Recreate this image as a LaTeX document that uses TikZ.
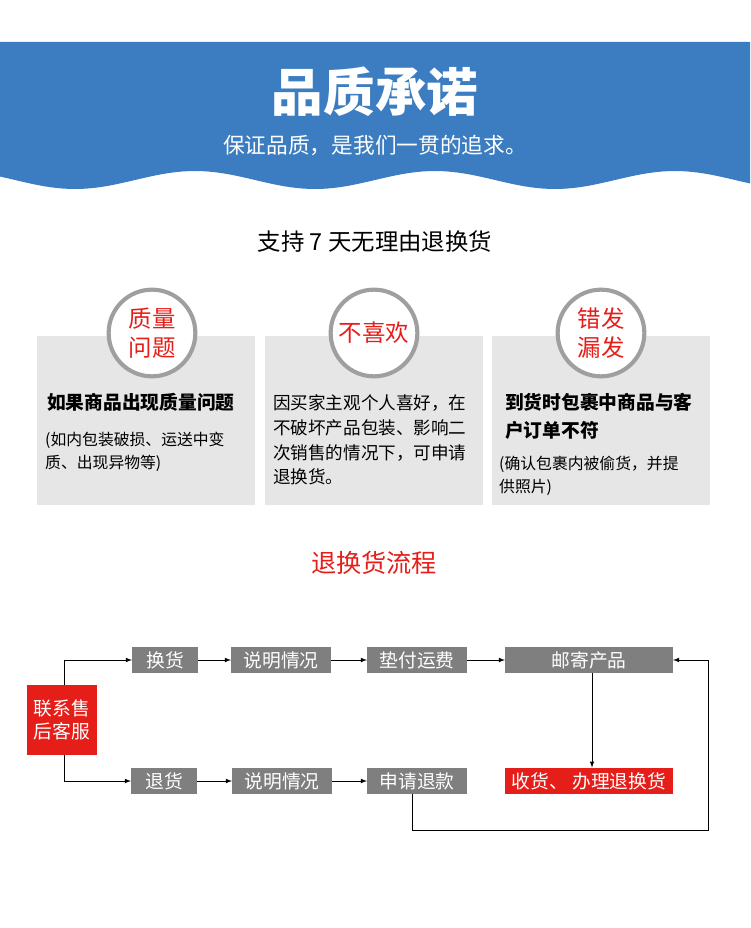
\documentclass[tikz,border=0pt]{standalone}
\usepackage{fontspec}
\setmainfont{Noto Sans CJK SC}
\usetikzlibrary{positioning}
\definecolor{bandblue}{RGB}{59,125,192}
\definecolor{cardgray}{RGB}{230,230,230}
\definecolor{flowgray}{RGB}{127,127,127}
\definecolor{alertred}{RGB}{230,30,25}
\tikzset{
  flowbox/.style={fill=flowgray,text=white,font=\fontsize{16}{18}\selectfont,minimum height=22.5pt,inner sep=0pt},
  redbox/.style={flowbox,fill=alertred},
  ring/.style={circle,draw=gray!75,line width=3.5pt,fill=white,minimum size=74pt,text=alertred,font=\fontsize{20}{25}\selectfont},
  cardtext/.style={anchor=north west,align=left,inner sep=0pt,font=\fontsize{15}{21.3}\selectfont},
  flowline/.style={line width=0.8pt,-latex}
}
\begin{document}
\begin{tikzpicture}[x=0.03cm,y=-0.03cm]
\useasboundingbox (0,0) rectangle (750,928);

% header band
\fill[bandblue] (0,42) -- (750,42) -- (750,180)
  -- plot[domain=750:0,samples=120] (\x,{180+9*cos(1.5*(\x-75))}) -- cycle;
\node[text=white,font=\fontsize{44}{48}\bfseries\selectfont] (title) at (375,92) {品质承诺};
\node[text=white,font=\fontsize{18.5}{22}\selectfont] (motto) at (375,145) {保证品质，是我们一贯的追求。};
\node[font=\fontsize{20}{24}\selectfont] (promise) at (375,242) {支持 7 天无理由退换货};

% cards
\foreach \i/\cx in {1/146, 2/374, 3/601} {
    \fill[cardgray] (\cx-109,336) rectangle (\cx+109,505);
}
\node[ring,align=center] (c1) at (152,333) {质量\\问题};
\node[ring] (c2) at (374,333) {不喜欢};
\node[ring,align=center] (c3) at (601,333) {错发\\漏发};

\node[cardtext,font=\fontsize{16}{21}\bfseries\selectfont] (t1) at (47,393) {如果商品出现质量问题};
\node[cardtext,font=\fontsize{13.5}{19.5}\selectfont] (s1) at (45,432) {(如内包装破损、运送中变\\质、出现异物等)};
\node[cardtext] (t2) at (273,394) {因买家主观个人喜好，在\\不破坏产品包装、影响二\\次销售的情况下，可申请\\退换货。};
\node[cardtext,font=\fontsize{16}{24}\bfseries\selectfont] (t3) at (505,393) {到货时包裹中商品与客\\户订单不符};
\node[cardtext,font=\fontsize{13.5}{19.5}\selectfont] (s3) at (499,456) {(确认包裹内被偷货，并提\\供照片)};

% flow
\node[text=alertred,font=\fontsize{21.5}{24}\selectfont] (flowtitle) at (374,563) {退换货流程};

\node[redbox,align=center,minimum width=60pt,minimum height=60pt,font=\fontsize{16}{20}\selectfont] (contact) at (62,720) {联系售\\后客服};
\node[flowbox,minimum width=56pt] (swap) at (165,660) {换货};
\node[flowbox,minimum width=85pt] (explainA) at (281,660) {说明情况};
\node[flowbox,minimum width=85pt] (prepay) at (417,660) {垫付运费};
\node[flowbox,minimum width=143pt] (mail) at (589,660) {邮寄产品};
\node[flowbox,minimum width=56pt] (refundgoods) at (164,781) {退货};
\node[flowbox,minimum width=85pt] (explainB) at (282,781) {说明情况};
\node[flowbox,minimum width=85pt] (apply) at (417,781) {申请退款};
\node[redbox,minimum width=143pt] (receive) at (589,781) {收货、 办理退换货};

\draw[flowline] (contact.north -| 64,0) |- (swap);
\draw[flowline] (contact.south -| 64,0) |- (refundgoods);
\draw[flowline] (swap) -- (explainA);
\draw[flowline] (explainA) -- (prepay);
\draw[flowline] (prepay) -- (mail);
\draw[flowline] (refundgoods) -- (explainB);
\draw[flowline] (explainB) -- (apply);
\draw[flowline] (mail.south -| 592,0) -- (receive.north -| 592,0);
\coordinate (loopA) at (412,830);
\coordinate (loopB) at (708,830);
\draw[flowline] (apply.south -| loopA) -- (loopA) -- (loopB) |- (mail.east);
\end{tikzpicture}
\end{document}
